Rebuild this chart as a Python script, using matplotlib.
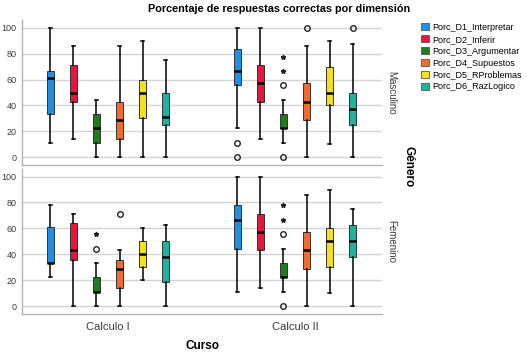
import numpy as np
import matplotlib
matplotlib.use("Agg")
import matplotlib.pyplot as plt
import matplotlib.patches as mpatches

plt.rcParams["font.family"] = ["Liberation Sans", "DejaVu Sans"]

# ── Data ─────────────────────────────────────────────────────────────────────
COURSES = ["Calculo I", "Calculo II"]
GENDERS = ["Masculino", "Femenino"]
DIMENSIONS = ["Porc_D1_Interpretar", "Porc_D2_Inferir", "Porc_D3_Argumentar",
              "Porc_D4_Supuestos", "Porc_D5_RProblemas", "Porc_D6_RazLogico"]
COLORS = ["#1F8FE5", "#E5173F", "#1E7B1E", "#F26A2E", "#F3E11E", "#1DB39F"]

# each row: [whisker low, Q1, median, Q3, whisker high]
MASC_CALC1 = [[11.1, 33.3, 61.1, 66.7, 100.0],
              [14.3, 42.9, 50.0, 71.4, 85.7],
              [0.0, 11.1, 22.2, 33.3, 44.4],
              [0.0, 14.3, 28.6, 42.9, 85.7],
              [0.0, 30.0, 50.0, 60.0, 90.0],
              [0.0, 25.0, 31.3, 50.0, 75.0]]
MASC_CALC2 = [[22.2, 55.6, 66.7, 83.3, 100.0],
              [14.3, 42.9, 57.1, 71.4, 100.0],
              [11.1, 22.2, 22.2, 33.3, 44.4],
              [0.0, 28.6, 42.9, 57.1, 85.7],
              [10.0, 40.0, 50.0, 70.0, 90.0],
              [0.0, 25.0, 37.5, 50.0, 87.5]]
FEM_CALC1 = [[22.2, 33.3, 33.3, 61.1, 77.8],
             [0.0, 35.7, 42.9, 64.3, 71.4],
             [0.0, 11.1, 11.1, 22.2, 33.3],
             [0.0, 14.3, 28.6, 35.7, 42.9],
             [20.0, 30.0, 40.0, 50.0, 60.0],
             [0.0, 18.8, 37.5, 50.0, 62.5]]
FEM_CALC2 = [[11.1, 44.4, 66.7, 77.8, 100.0],
             [14.3, 42.9, 57.1, 71.4, 100.0],
             [11.1, 22.2, 22.2, 33.3, 44.4],
             [0.0, 28.6, 42.9, 57.1, 85.7],
             [10.0, 30.0, 50.0, 60.0, 90.0],
             [0.0, 37.5, 50.0, 62.5, 75.0]]

# outliers (circles) and extremes (asterisks): (dimension index, value)
MASC_CALC1_OUT = []
MASC_CALC1_EXT = []
MASC_CALC2_OUT = [(0, 11.1), (0, 0.0), (2, 55.6), (2, 0.0), (3, 100.0), (5, 100.0)]
MASC_CALC2_EXT = [(2, 66.7), (2, 77.8)]
FEM_CALC1_OUT = [(2, 44.4), (3, 71.4)]
FEM_CALC1_EXT = [(2, 55.6)]
FEM_CALC2_OUT = [(2, 55.6), (2, 0.0)]
FEM_CALC2_EXT = [(2, 66.7), (2, 77.8)]

PANELS = [
    [(MASC_CALC1, MASC_CALC1_OUT, MASC_CALC1_EXT), (MASC_CALC2, MASC_CALC2_OUT, MASC_CALC2_EXT)],
    [(FEM_CALC1, FEM_CALC1_OUT, FEM_CALC1_EXT), (FEM_CALC2, FEM_CALC2_OUT, FEM_CALC2_EXT)],
]

# ── Layout ───────────────────────────────────────────────────────────────────
W, H = 527, 357
OFFSET = 0.1235
BOX_W = 0.036
GRID_C = "#d4d4d4"
SPINE_C = "#b4b4b4"
TEXT_C = "#3a3a3a"

fig = plt.figure(figsize=(W / 100, H / 100), dpi=100)
ax_top = fig.add_axes([22 / W, 1 - 165 / H, 360 / W, 145 / H])
ax_bot = fig.add_axes([22 / W, 1 - 313.8 / H, 360 / W, 145 / H])

for row, (ax, gender) in enumerate(zip([ax_top, ax_bot], GENDERS)):
    for c, (stats_rows, outs, exts) in enumerate(PANELS[row]):
        for d, s in enumerate(stats_rows):
            x = c + (d - 2.5) * OFFSET
            st = dict(whislo=s[0], q1=s[1], med=s[2], q3=s[3], whishi=s[4],
                      fliers=[v for (i, v) in outs if i == d])
            ax.bxp([st], positions=[x], widths=BOX_W, patch_artist=True,
                   boxprops=dict(facecolor=COLORS[d], edgecolor="#333333", linewidth=0.7),
                   medianprops=dict(color="black", linewidth=1.8),
                   whiskerprops=dict(color="black", linewidth=1.1),
                   capprops=dict(color="black", linewidth=1.1),
                   capwidths=BOX_W * 0.4,
                   flierprops=dict(marker="o", markersize=4, markerfacecolor="none",
                                   markeredgecolor="#222222", markeredgewidth=1.0),
                   manage_ticks=False, zorder=3)
            ext_vals = [v for (i, v) in exts if i == d]
            if ext_vals:
                ax.plot([x] * len(ext_vals), ext_vals, linestyle="none", marker="*",
                        markersize=3.5, color="#222222", zorder=4)

    ax.set_xlim(-0.46, 1.465)
    ax.set_ylim(-6, 106)
    ax.set_yticks([0, 20, 40, 60, 80, 100])
    ax.yaxis.grid(True, color=GRID_C, linewidth=1.0, zorder=0)
    ax.set_axisbelow(True)
    for side in ["top", "right"]:
        ax.spines[side].set_visible(False)
    for side in ["left", "bottom"]:
        ax.spines[side].set_color(SPINE_C)
        ax.spines[side].set_linewidth(1.0)
    ax.tick_params(axis="both", length=0, labelsize=6.5, colors=TEXT_C, pad=4)
    ax.text(1.013, 0.5, gender, transform=ax.transAxes, rotation=-90,
            ha="left", va="center", fontsize=7, color=TEXT_C)

ax_top.set_xticks([])
ax_bot.set_xticks([0, 1])
ax_bot.set_xticklabels(COURSES, fontsize=8, color=TEXT_C)
ax_bot.tick_params(axis="x", pad=6)

fig.text(279 / W, 1 - 9 / H, "Porcentaje de respuestas correctas por dimensión",
         ha="center", va="center", fontsize=7.8, fontweight="bold")
fig.text(202 / W, 1 - 346 / H, "Curso", ha="center", va="center",
         fontsize=8.5, fontweight="bold")
fig.text(409 / W, 1 - 167 / H, "Género", ha="center", va="center",
         fontsize=8.5, fontweight="bold", rotation=-90)

handles = [mpatches.Patch(facecolor=col, edgecolor="#555555", linewidth=0.6, label=lab)
           for col, lab in zip(COLORS, DIMENSIONS)]
fig.legend(handles=handles, loc="upper left", bbox_to_anchor=(421 / W, 1 - 23 / H),
           frameon=False, fontsize=6.5, handlelength=0.9, handleheight=0.8,
           handletextpad=0.3, labelspacing=0.32, borderaxespad=0, borderpad=0)

fig.savefig("out.png", dpi=100)
